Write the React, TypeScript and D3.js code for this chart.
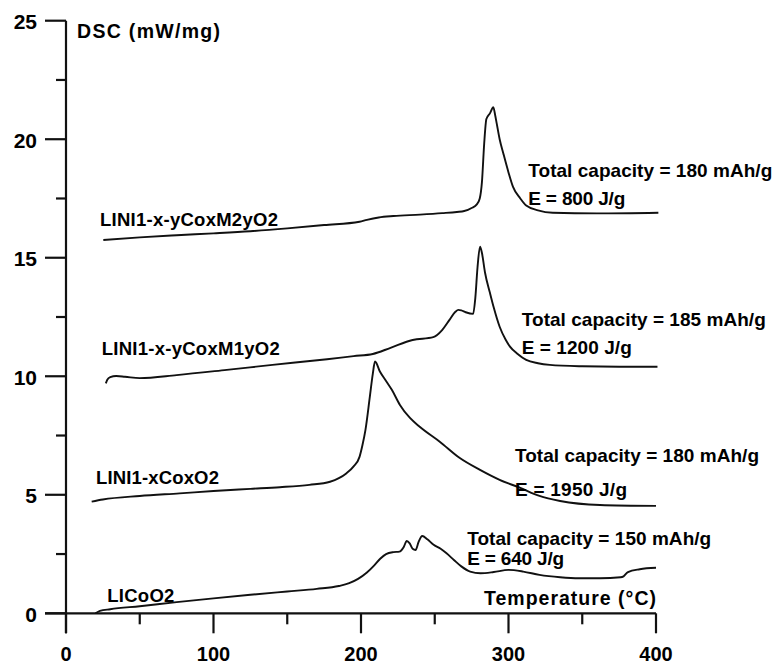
import React, { useEffect } from "react";
import * as d3 from "d3";

// ---- Data (temperature °C, DSC mW/mg) ----
const LICOO2: [number, number][] = [
  [20, 0.0], [23, 0.1], [30, 0.17], [50, 0.3], [75, 0.47], [100, 0.63], [125, 0.78], [150, 0.92],
  [170, 1.03], [185, 1.15], [192, 1.27], [198, 1.45], [204, 1.72], [209, 2.02], [213, 2.3], [217, 2.5],
  [222, 2.58], [226, 2.6], [229, 2.8], [231, 3.05], [233, 2.95], [235, 2.72], [237, 2.67], [239, 3.0],
  [241.5, 3.26], [245, 3.12], [249, 2.9], [254, 2.72], [258, 2.53], [263, 2.25], [268, 1.98], [274, 1.76],
  [281, 1.69], [290, 1.74], [300, 1.83], [310, 1.76], [321, 1.62], [335, 1.52], [348, 1.48], [362, 1.48],
  [376, 1.52], [378, 1.56], [381, 1.74], [389, 1.86], [400, 1.92],
];

const LINICO: [number, number][] = [
  [17.4, 4.71], [25, 4.8], [50, 4.95], [77, 5.06], [100, 5.16], [125, 5.25], [145, 5.32], [165, 5.42],
  [179, 5.55], [185, 5.7], [190, 5.9], [195, 6.2], [199, 6.6], [201, 7.1], [203, 7.73], [206, 9.14],
  [208, 10.1], [209.5, 10.62], [212.9, 10.19], [217, 9.8], [221, 9.42], [226.4, 8.79], [233.2, 8.24],
  [240, 7.86], [253.6, 7.23], [267, 6.55], [280.7, 6.05], [294, 5.63], [308, 5.29], [321, 4.95],
  [335, 4.74], [362, 4.57], [400, 4.53],
];

const LINICOM1: [number, number][] = [
  [27, 9.7], [28, 9.85], [30, 9.96], [34, 10.01], [40, 9.98], [50, 9.92], [75, 10.05], [109, 10.27],
  [140, 10.48], [177, 10.72], [195, 10.85], [208, 10.94], [220, 11.2], [235, 11.53], [249, 11.65],
  [255, 11.95], [260, 12.38], [264, 12.72], [266, 12.8], [268, 12.78], [271, 12.7], [276, 12.63],
  [277.5, 13.3], [279, 14.6], [280.7, 15.47], [282, 15.2], [284, 14.4], [287.5, 13.5], [290, 12.9],
  [294, 12.09], [298, 11.55], [301, 11.25], [306, 10.95], [312, 10.69], [320, 10.55], [328, 10.48],
  [350, 10.42], [375, 10.4], [401, 10.4],
];

const LINICOM2: [number, number][] = [
  [25.3, 15.75], [50, 15.86], [75, 15.95], [100, 16.03], [125, 16.12], [150, 16.24], [175, 16.38],
  [199, 16.52], [204, 16.6], [212, 16.7], [222, 16.76], [240, 16.82], [255, 16.88], [265, 16.93],
  [270, 16.97], [275, 17.1], [278.5, 17.25], [280.5, 17.5], [282, 18.2], [283.5, 19.8], [285, 20.85],
  [287.5, 21.1], [289.7, 21.35], [291, 21.0], [292, 20.67], [294, 20.0], [296.5, 19.4], [300, 18.6],
  [303, 18.0], [308, 17.5], [312, 17.2], [320, 17.0], [330, 16.9], [360, 16.87], [401.6, 16.9],
];

const SERIES_LABELS = ["LINI1-x-yCoxM2yO2", "LINI1-x-yCoxM1yO2", "LINI1-xCoxO2", "LICoO2"];
const CAPACITY_LABELS = [
  "Total capacity = 180 mAh/g",
  "Total capacity = 185 mAh/g",
  "Total capacity = 180 mAh/g",
  "Total capacity = 150 mAh/g",
];
const ENERGY_LABELS = ["E = 800 J/g", "E = 1200 J/g", "E = 1950 J/g", "E = 640 J/g"];
const X_TICKS = [0, 100, 200, 300, 400];
const X_MINOR = [50, 150, 250, 350];
const Y_TICKS = [0, 5, 10, 15, 20, 25];
const Y_MINOR = [2.5, 7.5, 12.5, 17.5, 22.5];
const X_TITLE = "Temperature (°C)";
const Y_TITLE = "DSC (mW/mg)";

const W = 774;
const H = 667;
const FONT = "'Liberation Sans', Arial, Helvetica, sans-serif";

export default function App() {
  useEffect(() => {
    document.body.style.margin = "0";
  }, []);

  const x = d3.scaleLinear().domain([0, 400]).range([66, 656]);
  const y = d3.scaleLinear().domain([0, 25]).range([613.3, 20.7]);

  const line = d3
    .line<[number, number]>()
    .x((d) => x(d[0]))
    .y((d) => y(d[1]))
    .curve(d3.curveMonotoneX);

  const series = [LINICOM2, LINICOM1, LINICO, LICOO2];

  // label anchor positions in data units
  const nameAt: [number, number][] = [[23, 16.34], [24.2, 10.9], [20.3, 5.44], [28, 0.49]];
  const nameLen = [178, 178, 123, 67];
  const capAt: [number, number, number][] = [
    [313.4, 18.42, 17.23],
    [309, 12.12, 10.94],
    [304.4, 6.4, 4.95],
    [272, 2.88, 2.04],
  ];
  const eLen = [97, 110, 112, 97];

  const stroke = "#111";
  const axisW = 2.2;

  return (
    <svg width={W} height={H} style={{ display: "block", background: "#fff" }} fontFamily={FONT}>
      <rect x={0} y={0} width={W} height={H} fill="#fff" />
      {/* axes */}
      <line x1={x(0)} x2={x(0)} y1={y(25)} y2={y(0) + 20} stroke={stroke} strokeWidth={axisW} />
      <line x1={x(0) - 21} x2={x(400)} y1={y(0)} y2={y(0)} stroke={stroke} strokeWidth={axisW} />
      {X_TICKS.map((t) => (
        <g key={"xt" + t}>
          <line x1={x(t)} x2={x(t)} y1={y(0)} y2={y(0) + 20} stroke={stroke} strokeWidth={axisW} />
          <text x={x(t)} y={661} textAnchor="middle" fontSize={20} fontWeight="bold" fill="#000">
            {t}
          </text>
        </g>
      ))}
      {X_MINOR.map((t) => (
        <line key={"xm" + t} x1={x(t)} x2={x(t)} y1={y(0)} y2={y(0) + 11} stroke={stroke} strokeWidth={axisW} />
      ))}
      {Y_TICKS.map((t) => (
        <g key={"yt" + t}>
          <line x1={x(0) - 21} x2={x(0)} y1={y(t)} y2={y(t)} stroke={stroke} strokeWidth={axisW} />
          <text x={37} y={y(t) + 8.5} textAnchor="end" fontSize={21} fontWeight="bold" fill="#000">
            {t}
          </text>
        </g>
      ))}
      {Y_MINOR.map((t) => (
        <line key={"ym" + t} x1={x(0) - 10} x2={x(0)} y1={y(t)} y2={y(t)} stroke={stroke} strokeWidth={axisW} />
      ))}

      {/* titles */}
      <text x={x(7.5)} y={y(24.26)} fontSize={19.5} fontWeight="bold" fill="#000" textLength={143} lengthAdjust="spacing">
        {Y_TITLE}
      </text>
      <text x={x(400) - 172} y={y(0.35)} fontSize={19.5} fontWeight="bold" fill="#000" textLength={172} lengthAdjust="spacing">
        {X_TITLE}
      </text>

      {/* curves */}
      {series.map((s, i) => (
        <path key={"s" + i} d={line(s) || ""} fill="none" stroke={stroke} strokeWidth={1.9} strokeLinejoin="round" />
      ))}

      {/* labels */}
      {SERIES_LABELS.map((l, i) => (
        <text key={"n" + i} x={x(nameAt[i][0])} y={y(nameAt[i][1])} fontSize={18.5} fontWeight="bold" fill="#000"
          textLength={nameLen[i]} lengthAdjust="spacing">
          {l}
        </text>
      ))}
      {CAPACITY_LABELS.map((l, i) => (
        <text key={"c" + i} x={x(capAt[i][0])} y={y(capAt[i][1])} fontSize={19} fontWeight="bold" fill="#000"
          textLength={244} lengthAdjust="spacing">
          {l}
        </text>
      ))}
      {ENERGY_LABELS.map((l, i) => (
        <text key={"e" + i} x={x(capAt[i][0])} y={y(capAt[i][2])} fontSize={19} fontWeight="bold" fill="#000"
          textLength={eLen[i]} lengthAdjust="spacing">
          {l}
        </text>
      ))}
    </svg>
  );
}
